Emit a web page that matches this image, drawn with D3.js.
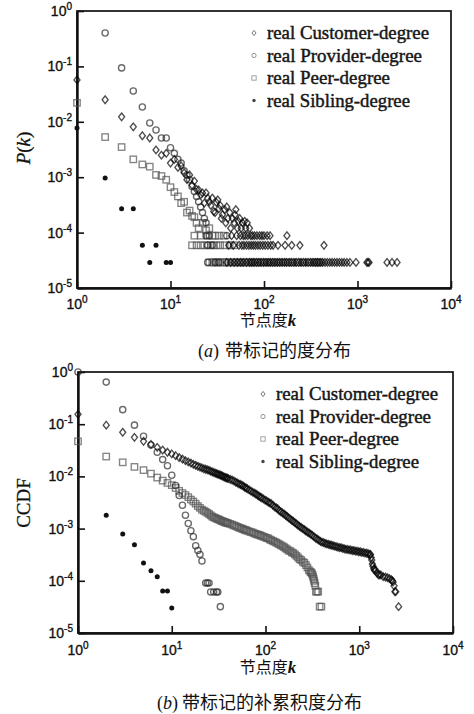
<!DOCTYPE html>
<html><head><meta charset="utf-8">
<script src="https://cdn.jsdelivr.net/npm/d3@7"></script>
<style>body{margin:0;background:#fff}</style>
</head><body>
<svg id="c" width="474" height="714" xmlns="http://www.w3.org/2000/svg"></svg>
<script>
// ---------- DATA ----------
const seriesNames = ["real Customer-degree","real Provider-degree","real Peer-degree","real Sibling-degree"];
const xTickExps = [0,1,2,3,4];
const yTickExps = [0,-1,-2,-3,-4,-5];
const floorLevels = [8.8e-5, 5.9e-5, 2.9e-5];

// (a) degree distribution P(k): [k, P]
const topCustomer = [[1,0.057],[2,0.025],[3,0.0123],[4,0.0081],[5,0.0056],[6,0.0051],[7,0.0031],[8,0.0025],[9,0.0027],[10,0.0018],[11,0.0021],[12,0.0015],[13,0.0016],[14,0.0012],[15,0.0009],[16,0.0011],[17,0.00072],[18,0.00085],[19,0.0006],[20,0.00059],[21,0.00048],[22,0.00052],[23,0.00034],[24,0.00052],[25,0.00042],[26,0.00036],[27,0.00031],[28,0.00042],[29,0.00024],[30,0.00023],[31,0.00035],[32,0.00039],[33,0.00027],[34,0.00031],[35,0.00018],[36,0.00021],[38,0.00026],[39,0.00015],[40,0.00029],[41,0.00018],[43,0.00023],[44,0.00012],[46,0.00018],[48,0.00015],[49,0.00021],[50,0.00026],[52,0.00012],[53,0.00016],[55,0.00018],[57,0.00012],[59,0.00015],[62,0.00016],[64,0.00012],[66,0.00015],[70,0.00012]];
const topCustomerRows = [
  [45,51,56,60,63,67,72,75,79,84,90,95,100,108,116,176],
  [42,47,54,58,61,65,69,73,77,81,86,91,97,103,110,118,125,141,168,198,242,438],
  [40,44,48,52,56,60,65,70,74,78,83,88,93,99,105,111,117,124,131,139,147,156,165,175,186,197,209,221,235,249,264,280,297,315,334,354,376,399,423,449,476,505,535,568,602,640,680,720,770,830,964,1260,1295,1330,2070,2340,2650]
];
const topProvider = [[2,0.40],[3,0.094],[4,0.036],[5,0.0185],[6,0.0095],[7,0.0071],[8,0.0051],[9,0.0051],[10,0.0034],[11,0.0027],[12,0.0021],[13,0.0018],[14,0.0013],[15,0.0011],[16,0.0009],[17,0.00068],[18,0.00055],[19,0.00045],[20,0.00036],[21,0.00029],[22,0.00023],[23,0.00018],[24,0.00015]];
const topProviderRows = [[24,26,40],[25,28],[25,30,33]];
const topPeer = [[1,0.022],[2,0.0053],[3,0.0035],[4,0.0021],[5,0.0017],[6,0.00155],[7,0.0011],[8,0.00105],[9,0.0009],[10,0.00066],[11,0.00054],[12,0.00045],[13,0.00034],[14,0.00036],[15,0.00023],[16,0.00025],[17,0.0002],[18,0.00019],[19,0.00015],[20,0.00012],[22,0.00015],[24,0.00011],[26,0.00012]];
const topPeerRows = [
  [18,21,25,28,30,33,37],
  [17,19,21,23,25,27,29,31,34,38,43,48],
  [26,28,29,31,32,34,36,38,40,42,45,48,51,54,57,61,65,69,74,79,85,92,99,108,118,130,145,160,180,200,230,260,300,345,365,380,395]
];
const topSibling = [[1,0.0077],[2,0.00097],[3,0.00027],[4,0.00027],[5,0.000059],[7,0.000059],[6,0.000029],[9,0.000029],[10,0.000029]];

// (b) CCDF: [k, CCDF]
const ccdfCustomer = [[1,0.155],[2,0.096],[3,0.070],[4,0.056],[5,0.047],[6,0.041],[7,0.036],[8,0.032],[9,0.029],[10,0.027],[11,0.025],[12,0.023],[13,0.0215],[14,0.020],[15,0.019],[16,0.018],[17,0.017],[18,0.0163],[19,0.0156],[20,0.015],[21,0.0145],[22,0.014],[23,0.0137],[24,0.0134],[25,0.013],[26,0.0126],[27,0.0122],[28,0.0119],[29,0.0116],
[30,0.0113],[31,0.0111],[32,0.0108],[33,0.0106],[34,0.0103],[35,0.0101],[36,0.0098],[37,0.0096],[38,0.0094],[39,0.0093],[40,0.0091],[42,0.0088],[44,0.0085],[46,0.0082],[48,0.0078],[50,0.0075],[52,0.0072],[54,0.0070],[56,0.0068],[58,0.0065],[60,0.0062],[62,0.0060],[64,0.0058],[67,0.0055],[70,0.0052],[73,0.0050],[76,0.0048],[79,0.0046],[82,0.0044],[85,0.0042],[88,0.0040],[91,0.0039],[95,0.0037],[99,0.0035],[103,0.0034],[107,0.0032],[111,0.0031],[115,0.0030],[120,0.0028],[125,0.0026],[130,0.0025],[135,0.0024],[140,0.0022],[146,0.0021],[152,0.0020],[158,0.0019],[164,0.0018],[170,0.0017],[177,0.0016],[184,0.00152],[191,0.00144],[198,0.00137],[206,0.0013],[214,0.00123],[222,0.00116],[231,0.0011],[240,0.00105],[250,0.001],[260,0.00095],[270,0.0009],[281,0.00086],[292,0.00082],[304,0.00078],[316,0.00074],[329,0.0007],[342,0.00066],[356,0.00063],[370,0.0006],[385,0.00057],[400,0.00055],[416,0.00054],[433,0.00052],[450,0.00051],[468,0.0005],[487,0.00049],[506,0.00048],[526,0.00047],[547,0.00046],[569,0.00045],[592,0.00044],[616,0.00043],[640,0.00043],[666,0.00042],[692,0.00041],[720,0.0004],[749,0.0004],[779,0.00039],[810,0.00039],[842,0.00038],[876,0.00038],[911,0.00037],[947,0.00037],[985,0.00036],[1024,0.00036],[1065,0.00035],[1108,0.00035],[1152,0.00034],[1198,0.00034],[1246,0.00033],[1296,0.00032],
[1320,0.00032],[1340,0.00028],[1360,0.00025],[1380,0.00021],[1400,0.00019],[1430,0.00017],[1450,0.00016],[1500,0.00016],[1550,0.00014],[1600,0.00013],[1650,0.00013],[1700,0.00013],[1800,0.00012],[1900,0.000118],[2000,0.000115],[2100,0.00011],[2200,0.000105],[2250,0.0001],[2300,0.000095],[2350,0.00008],[2400,0.000062],[2450,0.000062],[2630,0.000032]];
const ccdfProvider = [[1,1.0],[2,0.64],[3,0.19],[4,0.096],[5,0.059],[6,0.040],[7,0.029],[8,0.021],[9,0.016],[10,0.0105],[11,0.0067],[12,0.0043],[13,0.0028],[14,0.0018],[15,0.00125],[16,0.00091],[17,0.0007],[18,0.00047],[19,0.00038],[20,0.00032],[21,0.00024],[23,0.000091],[24,0.000091],[25,0.000091],[26,0.000061],[28,0.000061],[30,0.000061],[31,0.000061],[33,0.000032]];
const ccdfPeer = [[1,0.047],[2,0.024],[3,0.0186],[4,0.0152],[5,0.0132],[6,0.0113],[7,0.0095],[8,0.0083],[9,0.0075],[10,0.0068],[11,0.006],[12,0.0053],[13,0.0048],[14,0.0044],[15,0.004],[16,0.0036],[17,0.0033],[18,0.003],[19,0.0027],[20,0.0025],[21,0.0023],[22,0.0022],[23,0.0021],[24,0.002],[25,0.0019],[26,0.0018],[27,0.0017],[28,0.00165],[29,0.0016],
[30,0.00155],[31,0.00152],[32,0.00148],[33,0.00144],[34,0.0014],[35,0.00138],[36,0.00135],[37,0.00132],[38,0.0013],[39,0.00128],[40,0.00126],[42,0.00123],[44,0.00119],[46,0.00115],[48,0.00112],[50,0.00108],[52,0.00105],[54,0.00102],[56,0.001],[58,0.00097],[60,0.00095],[62,0.00093],[64,0.00091],[67,0.00088],[70,0.00086],[73,0.00084],[76,0.00081],[79,0.00079],[82,0.00077],[85,0.00076],[88,0.00074],[91,0.00072],[95,0.0007],[99,0.00068],[103,0.00066],[107,0.00065],[111,0.00062],[115,0.0006],[120,0.00058],[125,0.00056],[130,0.00054],[135,0.00052],[140,0.0005],[146,0.00048],[152,0.00046],[158,0.00044],[164,0.00042],[170,0.0004],[177,0.00038],[184,0.00037],[191,0.00035],[198,0.00034],[206,0.00032],[214,0.0003],[222,0.00028],[231,0.00026],[240,0.00025],[250,0.00023],[260,0.00022],[270,0.0002],[280,0.00018],[290,0.00016],[300,0.00015],[306,0.000145],[312,0.00014],[317,0.00013],[322,0.00012],[326,0.00011],[330,0.0001],[335,0.00009],[340,0.00008],[345,0.000062],[355,0.000062],[365,0.000062],[378,0.000032],[395,0.000032]];
const ccdfSibling = [[2,0.0018],[3,0.00079],[4,0.00049],[5,0.00022],[6,0.000155],[7,0.00012],[8,0.000064],[9,0.000064],[10,0.00003]];

// ---------- DRAW ----------
const svg = d3.select("#c");
const serif = "'Liberation Serif','Times New Roman',serif";
const sans = "'Liberation Sans',Arial,sans-serif";
const cjk = "'Liberation Serif','Noto Sans CJK SC',serif";
const legendWidths = [162,155,123,143];

const styles = {
  customer: {stroke:"#000", op:0.7},
  provider: {stroke:"#222", op:0.68},
  peer: {stroke:"#555", op:0.72},
  sibling: {fill:"#111"}
};

function marker(g, type, cx, cy, s, legend) {
  const st = styles[type];
  const sw = legend ? 0.9 : 1.35;
  if (type === "customer") {
    const w = 3*s, h = 3.8*s;
    g.append("path").attr("d",`M${cx},${cy-h}L${cx+w},${cy}L${cx},${cy+h}L${cx-w},${cy}Z`)
      .attr("fill","none").attr("stroke",legend?"#666":st.stroke).attr("stroke-opacity",legend?1:st.op).attr("stroke-width",sw);
  } else if (type === "provider") {
    g.append("circle").attr("cx",cx).attr("cy",cy).attr("r",3.1*s)
      .attr("fill","none").attr("stroke",legend?"#888":st.stroke).attr("stroke-opacity",legend?1:st.op).attr("stroke-width",sw);
  } else if (type === "peer") {
    const a = 3.2*s;
    g.append("rect").attr("x",cx-a).attr("y",cy-a).attr("width",2*a).attr("height",2*a)
      .attr("fill","none").attr("stroke",legend?"#999":st.stroke).attr("stroke-opacity",legend?1:st.op).attr("stroke-width",sw);
  } else {
    g.append("circle").attr("cx",cx).attr("cy",cy).attr("r",2.5*s).attr("fill",legend?"#444":st.fill);
  }
}

function panel(cfg) {
  const x = d3.scaleLog().domain([1,1e4]).range([cfg.l, cfg.r]);
  const y = d3.scaleLog().domain([1e-5,1]).range([cfg.b, cfg.t]);
  const g = svg.append("g");

  g.append("rect").attr("x",cfg.l).attr("y",cfg.t).attr("width",cfg.r-cfg.l).attr("height",cfg.b-cfg.t)
    .attr("fill","none").attr("stroke","#111").attr("stroke-width",1.7);

  const xv = xTickExps.map(e => Math.pow(10,e));
  const yv = yTickExps.map(e => Math.pow(10,e));
  const xa = g.append("g").attr("transform",`translate(0,${cfg.b})`)
    .call(d3.axisBottom(x).tickValues(xv).tickSize(-7).tickSizeOuter(0).tickFormat(""));
  xa.select(".domain").attr("stroke","#111").attr("stroke-width",2.4);
  xa.selectAll(".tick line").attr("stroke","#111").attr("stroke-width",1.6);
  const ya = g.append("g").attr("transform",`translate(${cfg.l},0)`)
    .call(d3.axisLeft(y).tickValues(yv).tickSize(-7).tickSizeOuter(0).tickFormat(""));
  ya.select(".domain").attr("stroke","#111").attr("stroke-width",2.4);
  ya.selectAll(".tick line").attr("stroke","#111").attr("stroke-width",1.6);

  xTickExps.forEach(e => {
    const t = g.append("text").attr("x", x(Math.pow(10,e))).attr("y", cfg.b + cfg.xlab)
      .attr("text-anchor","middle").attr("font-family",sans).attr("font-size",14).attr("fill","#111")
      .attr("stroke","#111").attr("stroke-width",0.35);
    t.append("tspan").text("10");
    t.append("tspan").attr("dy",-6).attr("font-size",10).text(String(e));
  });
  yTickExps.forEach(e => {
    const t = g.append("text").attr("x", cfg.l - 5).attr("y", y(Math.pow(10,e)) + 5)
      .attr("text-anchor","end").attr("font-family",sans).attr("font-size",14).attr("fill","#111")
      .attr("stroke","#111").attr("stroke-width",0.35);
    t.append("tspan").text("10");
    t.append("tspan").attr("dy",-6).attr("font-size",10).text(String(e));
  });

  const dg = g.append("g");
  cfg.series.forEach(s => {
    s.pts.forEach(d => marker(dg, s.type, x(d[0]), y(d[1]), 1, false));
  });

  const lg = g.append("g");
  ["customer","provider","peer","sibling"].forEach((tp,i) => {
    const cy = cfg.legY + i*cfg.legDy;
    marker(lg, tp, cfg.legX, cy, 0.68, true);
    lg.append("text").attr("x",cfg.legX+13).attr("y",cy+6).attr("font-family",serif)
      .attr("font-size",18.5).attr("fill","#161616").attr("stroke","#161616").attr("stroke-width",0.45)
      .attr("textLength",legendWidths[i]).attr("lengthAdjust","spacingAndGlyphs").text(seriesNames[i]);
  });

  const yt = g.append("text").attr("transform",`translate(${cfg.ytX},${cfg.ytY}) rotate(-90)`)
    .attr("text-anchor","middle").attr("font-family",serif).attr("font-size",19).attr("fill","#111")
    .attr("stroke","#111").attr("stroke-width",0.3);
  cfg.ytitle(yt);

  const xt = g.append("text").attr("x",cfg.xtX).attr("y",cfg.xtY).attr("text-anchor","middle")
    .attr("font-family",cjk).attr("font-size",16).attr("fill","#111");
  xt.append("tspan").text("节点度");
  xt.append("tspan").attr("font-style","italic").attr("font-family",serif).attr("font-weight","bold").attr("font-size",17).text("k");

  const cp = g.append("text").attr("x",cfg.capX).attr("y",cfg.capY).attr("font-family",serif)
    .attr("font-size",18).attr("fill","#111");
  cp.append("tspan").text("(");
  cp.append("tspan").attr("font-style","italic").text(cfg.capLetter);
  cp.append("tspan").text(")");
  g.append("text").attr("x",cfg.capX2).attr("y",cfg.capY).attr("font-family",cjk)
    .attr("font-size",18).attr("fill","#111").text(cfg.capText);
}

function rowsToPts(rows) {
  const out = [];
  rows.forEach((ks,i) => ks.forEach(k => out.push([k, floorLevels[i]])));
  return out;
}

panel({
  l:77, r:451, t:11, b:288, xlab:21,
  series:[
    {type:"peer", pts: topPeer.concat(rowsToPts(topPeerRows))},
    {type:"provider", pts: topProvider.concat(rowsToPts(topProviderRows))},
    {type:"customer", pts: topCustomer.concat(rowsToPts(topCustomerRows))},
    {type:"sibling", pts: topSibling}
  ],
  legX:254, legY:33, legDy:22.5,
  ytX:30, ytY:148,
  ytitle: t => { t.append("tspan").attr("font-style","italic").text("P"); t.append("tspan").text("("); t.append("tspan").attr("font-style","italic").text("k"); t.append("tspan").text(")"); },
  xtX:268, xtY:326,
  capX:198, capX2:225, capY:357, capLetter:"a", capText:"带标记的度分布"
});

panel({
  l:78, r:453, t:372, b:633, xlab:22,
  series:[
    {type:"peer", pts: ccdfPeer},
    {type:"provider", pts: ccdfProvider},
    {type:"customer", pts: ccdfCustomer},
    {type:"sibling", pts: ccdfSibling}
  ],
  legX:263, legY:394, legDy:22.5,
  ytX:30, ytY:503,
  ytitle: t => { t.text("CCDF"); },
  xtX:268, xtY:673,
  capX:157, capX2:182, capY:709, capLetter:"b", capText:"带标记的补累积度分布"
});
</script>
</body></html>
